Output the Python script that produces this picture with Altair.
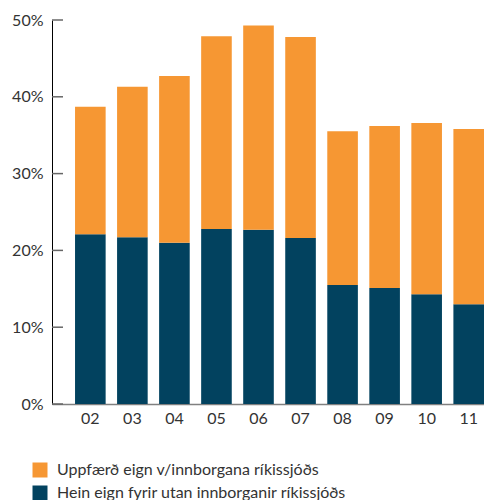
import altair as alt
import pandas as pd

years = ["02", "03", "04", "05", "06", "07", "08", "09", "10", "11"]
total = [38.7, 41.3, 42.7, 47.9, 49.3, 47.8, 35.5, 36.2, 36.6, 35.8]
dark = [22.1, 21.7, 21.0, 22.8, 22.7, 21.6, 15.5, 15.1, 14.3, 13.0]
series = ["Uppfærð eign v/innborgana ríkissjóðs", "Hein eign fyrir utan innborganir ríkissjóðs"]
colors = ["#F69733", "#02425F"]
y_ticks = [0, 10, 20, 30, 40, 50]

rows = []
for yr, t, d in zip(years, total, dark):
    rows.append({"year": yr, "series": series[1], "value": d, "order": 0})
    rows.append({"year": yr, "series": series[0], "value": round(t - d, 2), "order": 1})
df = pd.DataFrame(rows)

FONT = "Lato"
FS = 16

bars = alt.Chart(df).mark_bar().encode(
    x=alt.X("year:N", sort=years,
            scale=alt.Scale(paddingInner=0.272, paddingOuter=0.274, align=1),
            axis=alt.Axis(title=None, labelAngle=0, ticks=False, domainColor="#808080",
                          domainWidth=1.5, labelFontSize=FS, labelColor="#333333",
                          labelFont=FONT, labelPadding=6)),
    y=alt.Y("value:Q", stack="zero", scale=alt.Scale(domain=[0, 50], nice=False),
            axis=alt.Axis(title=None, values=y_ticks, grid=False, ticks=False,
                          domainColor="#000000", labelFontSize=FS, labelColor="#333333",
                          labelFont=FONT, labelPadding=9,
                          labelExpr="datum.value + '%'")),
    color=alt.Color("series:N", scale=alt.Scale(domain=series, range=colors),
                    legend=alt.Legend(title=None, orient="none", legendX=-20, legendY=442,
                                      symbolType="square", symbolSize=225, symbolStrokeWidth=0,
                                      labelFontSize=FS, labelFont=FONT, labelColor="#333333",
                                      labelLimit=400, rowPadding=7, labelOffset=9,
                                      padding=0, offset=0)),
    order=alt.Order("order:Q"),
)

tick_df = pd.DataFrame({"v": y_ticks})
ticks = alt.Chart(tick_df).mark_rule(color="#666666", strokeWidth=1.5).encode(
    x=alt.value(0), x2=alt.value(11), y="v:Q"
)

chart = alt.layer(bars, ticks).properties(
    width=432, height=384,
    autosize=alt.AutoSizeParams(type="none"),
    padding={"left": 44, "top": 12, "right": 0, "bottom": 96},
).configure_view(stroke=None)

chart.save("out.html", embed_options={"renderer": "svg", "actions": False})
